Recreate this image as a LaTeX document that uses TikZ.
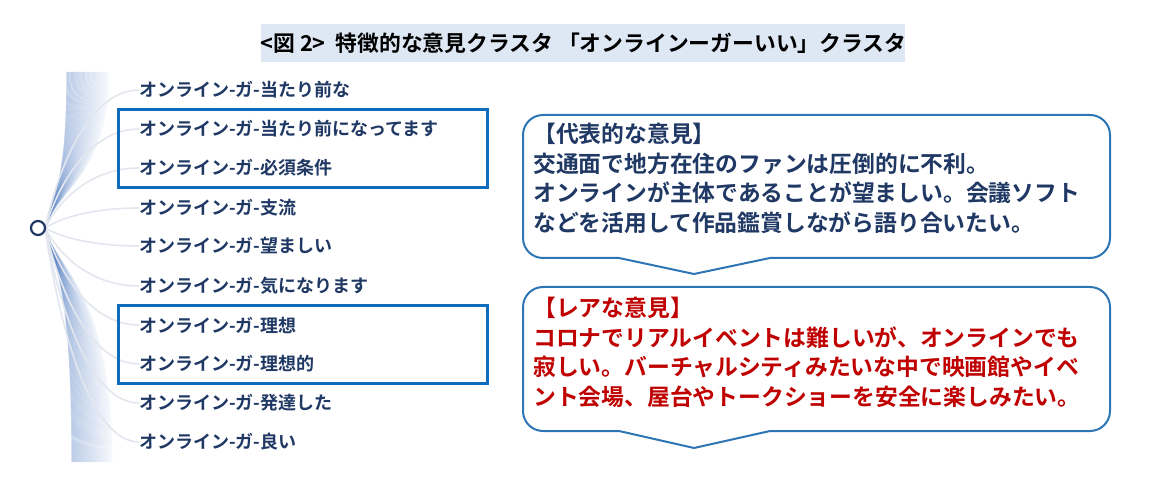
\documentclass[tikz,border=0pt]{standalone}
\usepackage{fontspec}
\newfontfamily\jp[BoldFont={Noto Sans CJK JP Bold}]{Noto Sans CJK JP}
\definecolor{navy}{HTML}{1F3864}
\definecolor{boxblue}{HTML}{0F6CBD}
\definecolor{callblue}{HTML}{2E75B6}
\definecolor{titlebg}{HTML}{DEE8F4}
\definecolor{rare}{HTML}{C00000}
\definecolor{fan}{HTML}{E2E6EE}
\definecolor{band}{HTML}{5A82C4}
\tikzset{
  leaf/.style={anchor=west, inner sep=0pt, font=\jp\bfseries\fontsize{18}{20}\selectfont, text=navy},
  selbox/.style={draw=boxblue, line width=3pt},
  callout/.style={draw=callblue, line width=2pt, fill=white, line join=round},
  calltext/.style={anchor=north west, inner sep=0pt, align=left, font=\jp\bfseries\fontsize{22.8}{29.5}\selectfont},
  fanline/.style={draw=fan, line width=1.6pt},
  bandline/.style={draw=band, line width=1.2pt},
}
\begin{document}
\begin{tikzpicture}[x=1pt,y=-1pt]
\useasboundingbox (0,0) rectangle (1149,486);
% title
\fill[titlebg] (261,24) rectangle (905,62);
\node[inner sep=0pt, font=\jp\bfseries\fontsize{21.8}{24}\selectfont] (title) at (583.5,43) {<図 2>\ \ 特徴的な意見クラスタ 「オンラインーガーいい」クラスタ};
% band of dendrogram lines
\foreach \i in {0,...,40}{
  \pgfmathsetmacro{\xt}{67+\i*1.05}
  \pgfmathsetmacro{\op}{0.34-\i*0.0075}
  \draw[bandline, opacity=\op] (45,228) .. controls (56,190) and (\xt,175) .. (\xt,72);
  \pgfmathsetmacro{\xb}{72+\i*1.0}
  \draw[bandline, opacity=\op] (45,228) .. controls (56,270) and (\xb,290) .. (\xb,462);
}
% leaves
\foreach \n/\y/\t in {1/90/当たり前な,2/129/当たり前になってます,3/168/必須条件,4/208/支流,5/246/望ましい,6/286/気になります,7/325/理想,8/364/理想的,9/403/発達した,10/442/良い}{
  \node[leaf] (leaf\n) at (139,\y) {オンライン-ガ-\t};
  \pgfmathsetmacro{\ym}{228+(\y-228)*0.55}
  \draw[fanline] (45,228) .. controls (62,\ym) and (95,\y) .. (leaf\n.west);
}
% root
\node[circle, draw=navy, line width=2.2pt, fill=white, minimum size=14pt, inner sep=0pt] (root) at (38,228) {};
% selection boxes
\draw[selbox] (118,110) rectangle (487,188);
\draw[selbox] (118,306) rectangle (487,383);
% callout 1
\draw[callout] (619,258) -- (694,274) -- (770,258) [rounded corners=20pt] -- (1110,258) -- (1110,115) -- (523,115) -- (523,258) [sharp corners] -- cycle;
\node[calltext, text=navy] (call1) at (533,123) {【代表的な意見】\\交通面で地方在住のファンは圧倒的に不利。\\オンラインが主体であることが望ましい。会議ソフト\\などを活用して作品鑑賞しながら語り合いたい。};
% callout 2
\draw[callout] (619,431) -- (694,448) -- (770,431) [rounded corners=20pt] -- (1110,431) -- (1110,287) -- (523,287) -- (523,431) [sharp corners] -- cycle;
\node[calltext, text=rare] (call2) at (533,297) {【レアな意見】\\コロナでリアルイベントは難しいが、オンラインでも\\寂しい。バーチャルシティみたいな中で映画館やイベ\\ント会場、屋台やトークショーを安全に楽しみたい。};
\end{tikzpicture}
\end{document}
